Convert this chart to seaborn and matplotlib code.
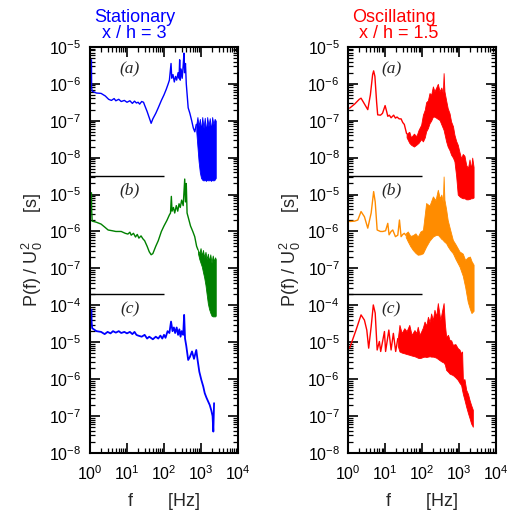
import numpy as np
import matplotlib
matplotlib.use("Agg")
import matplotlib.pyplot as plt
import seaborn as sns
from matplotlib.ticker import FixedLocator, FuncFormatter, LogLocator, NullFormatter

sns.set_style("ticks", {"xtick.direction": "in", "ytick.direction": "in",
                        "xtick.color": "black", "ytick.color": "black"})
plt.rcParams["font.family"] = ["Liberation Sans", "DejaVu Sans"]
plt.rcParams["mathtext.fontset"] = "custom"
plt.rcParams["mathtext.rm"] = "Liberation Sans"
plt.rcParams["mathtext.it"] = "Liberation Sans:italic"
plt.rcParams["mathtext.bf"] = "Liberation Sans:bold"
plt.rcParams["xtick.top"] = True
plt.rcParams["ytick.right"] = True
plt.rcParams["xtick.major.size"] = 7
plt.rcParams["ytick.major.size"] = 7
plt.rcParams["xtick.minor.size"] = 3.5
plt.rcParams["ytick.minor.size"] = 3.5
plt.rcParams["xtick.major.width"] = 1.2
plt.rcParams["ytick.major.width"] = 1.2
plt.rcParams["xtick.minor.width"] = 0.9
plt.rcParams["ytick.minor.width"] = 0.9

# ---------------------------------------------------------------------------
# Spectra: frequency [Hz] and log10 of P(f)/U0^2 [s]
# "line" = resolved curve, "band" = dense high-frequency scatter (lo / hi)
# ---------------------------------------------------------------------------

# Stationary, x/h = 3
st_a_f = [1.1, 1.11, 1.15, 1.5, 2.0, 2.6, 3.2, 3.8, 4.5, 5.0, 6.0, 7.0, 8.5, 10, 12, 14, 16, 18,
          20, 22, 25, 28, 30, 35, 40, 45, 50, 60, 70, 85, 100, 115, 130, 140, 155, 162, 175,
          190, 205, 220, 240, 255, 265, 275, 290, 310, 330, 347, 360, 380, 400, 430, 450, 500,
          560, 620, 680, 745]
st_a_logp = [-5.35, -6.1, -6.2, -6.25, -6.26, -6.33, -6.42, -6.45, -6.40, -6.46, -6.42, -6.48,
             -6.45, -6.50, -6.46, -6.53, -6.47, -6.52, -6.50, -6.55, -6.48, -6.50, -6.58, -6.75,
             -6.92, -7.07, -6.95, -6.8, -6.65, -6.45, -6.3, -6.15, -6.0, -5.9, -5.45, -5.85,
             -5.75, -5.95, -5.8, -5.9, -5.7, -5.85, -5.35, -5.9, -5.6, -5.85, -5.5, -5.17, -5.7,
             -5.45, -6.0, -6.4, -6.65, -6.8, -7.0, -7.2, -7.3, -7.1]
st_a_band_f = [745, 800, 860, 930, 1000, 1080, 1170, 1260, 1360, 1470, 1590, 1720, 1860, 2000,
               2160, 2330, 2500]
st_a_band_hi = [-7.1, -6.9, -7.15, -6.95, -7.25, -6.9, -7.2, -6.92, -7.3, -6.9, -7.15, -6.93,
                -7.25, -6.9, -7.1, -6.95, -7.0]
st_a_band_lo = [-7.3, -7.7, -8.1, -8.4, -8.55, -8.6, -8.62, -8.6, -8.63, -8.6, -8.62, -8.6,
                -8.63, -8.6, -8.62, -8.6, -8.55]

st_b_f = [1.1, 1.11, 1.15, 1.5, 2.0, 2.5, 3.1, 4, 5, 7, 9, 10.6, 12, 13, 15, 17, 19, 21, 24, 27,
          30, 35, 40, 45, 50, 60, 70, 85, 100, 120, 140, 150, 158, 165, 180, 195, 215, 235, 255,
          275, 300, 330, 363, 380, 400, 420, 447, 520, 600, 676, 760, 830]
st_b_logp = [-4.95, -5.4, -5.72, -5.75, -5.8, -5.88, -5.96, -5.98, -6.0, -6.0, -6.05, -6.07,
             -6.02, -6.1, -6.05, -6.15, -6.08, -6.18, -6.12, -6.2, -6.25, -6.4, -6.55, -6.63,
             -6.6, -6.4, -6.25, -6.0, -5.85, -5.7, -5.55, -5.5, -5.05, -5.45, -5.35, -5.5, -5.3,
             -5.45, -5.25, -5.35, -5.15, -5.3, -4.58, -5.2, -4.7, -5.5, -5.6, -5.85, -6.0, -6.14,
             -6.4, -6.5]
st_b_band_f = [830, 900, 970, 1050, 1130, 1220, 1320, 1420, 1530, 1650, 1780, 1920, 2070, 2230,
               2400, 2500]
st_b_band_hi = [-6.5, -6.6, -6.45, -6.65, -6.5, -6.7, -6.55, -6.75, -6.6, -6.8, -6.62, -6.85,
                -6.65, -6.8, -6.7, -6.75]
st_b_band_lo = [-6.6, -6.75, -6.85, -6.95, -7.1, -7.25, -7.45, -7.7, -7.95, -8.1, -8.2, -8.28,
                -8.3, -8.3, -8.3, -8.28]

st_c_f = [1.1, 1.11, 1.15, 1.5, 2.0, 2.5, 3.0, 3.6, 4.2, 5, 6, 7, 8.5, 10, 12, 14, 16, 18, 20,
          25, 30, 35, 40, 50, 60, 70, 80, 90, 100, 110, 125, 140, 155, 170, 185, 200, 220, 240,
          260, 280, 300, 330, 350, 370, 400, 450, 500, 571, 646, 745, 800, 900, 1020, 1150,
          1260, 1400, 1550, 1720, 1900, 2050, 2150, 2250]
st_c_logp = [-4.12, -4.45, -4.62, -4.7, -4.72, -4.78, -4.72, -4.76, -4.7, -4.74, -4.7, -4.75,
             -4.72, -4.76, -4.72, -4.78, -4.72, -4.8, -4.82, -4.85, -4.8, -4.9, -4.85, -4.92,
             -4.85, -4.9, -4.82, -4.9, -4.8, -4.88, -4.7, -4.75, -4.44, -4.7, -4.6, -4.75, -4.6,
             -4.8, -4.65, -4.85, -4.7, -4.8, -4.26, -4.9, -5.1, -5.48, -5.4, -5.25, -5.45,
             -5.21, -5.45, -5.8, -6.02, -6.2, -6.38, -6.5, -6.6, -6.7, -6.85, -7.0, -7.42, -6.65]

# Oscillating, x/h = 1.5
os_a_f = [1.1, 1.5, 2.0, 2.24, 2.6, 3.4, 4.0, 4.6, 4.9, 5.3, 5.9, 6.3, 7.5, 8.5, 10, 11, 11.8,
          13, 14.5, 17, 19, 21, 24, 27, 30, 33, 38]
os_a_logp = [-6.66, -6.55, -6.42, -6.39, -6.5, -6.7, -6.3, -5.75, -5.65, -5.8, -6.5, -6.84,
             -6.85, -6.8, -6.59, -6.75, -6.88, -6.85, -6.92, -6.85, -6.93, -6.9, -6.95, -6.95,
             -7.05, -7.1, -7.35]
os_a_band_f = [38, 45, 50, 60, 70, 80, 94, 105, 118, 128, 143, 158, 175, 195, 215, 240, 265, 295,
               330, 363, 380, 400, 445, 490, 550, 605, 680, 745, 830, 915, 1020, 1130, 1250,
               1390, 1550, 1730, 1900, 2100, 2250, 2450]
os_a_band_hi = [-7.35, -7.3, -7.45, -7.35, -7.42, -7.25, -7.11, -6.84, -6.7, -6.5, -6.45, -6.25,
                -6.3, -6.07, -6.2, -6.1, -6.0, -6.2, -6.1, -6.25, -5.71, -6.2, -6.45, -6.66,
                -6.8, -7.02, -7.15, -7.38, -7.55, -7.65, -7.85, -8.02, -7.9, -7.95, -8.2, -8.28,
                -8.05, -8.3, -8.0, -8.25]
os_a_band_lo = [-7.45, -7.6, -7.65, -7.7, -7.65, -7.6, -7.5, -7.56, -7.45, -7.29, -7.2, -7.07,
                -7.0, -6.89, -6.89, -6.92, -6.95, -6.98, -7.1, -7.2, -7.25, -7.35, -7.56, -7.7,
                -7.8, -7.92, -8.0, -8.1, -8.5, -9.0, -9.05, -9.08, -9.1, -9.1, -9.13, -9.13,
                -9.12, -9.1, -9.1, -9.08]

os_b_f = [1.1, 1.5, 1.83, 2.24, 2.76, 3.4, 4.2, 4.9, 5.4, 6.1, 7.5, 8.7, 10.3, 11.8, 12.8, 14.5,
          16.1, 19, 22, 24.4, 27, 30, 33, 36]
os_b_logp = [-5.73, -5.72, -5.69, -5.46, -5.6, -5.91, -5.5, -4.92, -5.2, -5.96, -6.0, -6.0,
             -5.98, -5.78, -6.09, -6.0, -5.96, -6.14, -6.1, -5.69, -6.14, -6.08, -6.05, -6.1]
os_b_band_f = [36, 41, 48, 56, 66, 76, 90, 105, 128, 158, 195, 230, 265, 300, 330, 363, 380, 400,
               445, 490, 570, 675, 800, 1020, 1250, 1450, 1700, 1950, 2150, 2450]
os_b_band_hi = [-6.05, -6.0, -6.12, -6.1, -6.05, -6.14, -6.0, -5.96, -5.23, -5.3, -5.05, -5.15,
                -4.87, -5.1, -5.0, -5.2, -4.51, -5.14, -5.4, -5.69, -5.95, -6.23, -6.35, -6.54,
                -6.6, -6.77, -6.7, -6.68, -6.8, -6.9]
os_b_band_lo = [-6.15, -6.27, -6.4, -6.5, -6.58, -6.63, -6.62, -6.59, -6.41, -6.25, -6.14, -6.1,
                -6.09, -6.15, -6.2, -6.23, -6.26, -6.28, -6.32, -6.4, -6.5, -6.59, -6.75, -6.95,
                -7.2, -7.5, -7.9, -8.1, -8.21, -8.15]

os_c_f = [1.1, 1.64, 2.24, 2.76, 3.2, 3.6, 4.2, 4.8, 5.4, 6.1, 7.0, 7.6, 9.6, 10.3, 12.6, 14.5,
          16.7, 19.3, 22]
os_c_logp = [-5.16, -4.67, -4.26, -4.40, -4.67, -5.16, -4.58, -3.99, -4.21, -5.21, -4.98, -5.25,
             -4.71, -5.25, -4.67, -5.21, -4.76, -5.25, -4.9]
os_c_band_f = [22, 24.4, 28, 33, 38, 45, 52, 62, 70, 76, 85, 94, 105, 116, 130, 143, 160, 175,
               195, 215, 240, 265, 290, 310, 345, 380, 410, 445, 500, 550, 610, 675, 790, 915,
               1020, 1130, 1200, 1260, 1390, 1550, 1730, 1900, 2100, 2340]
os_c_band_hi = [-4.9, -4.53, -4.75, -4.62, -4.7, -4.53, -4.8, -4.67, -4.75, -4.58, -4.8, -4.71,
                -4.6, -4.44, -4.55, -4.31, -4.45, -4.22, -4.4, -4.12, -4.3, -3.94, -4.2, -4.4,
                -4.15, -3.94, -4.5, -4.85, -4.8, -4.94, -4.95, -5.07, -5.05, -5.16, -5.2, -5.3,
                -5.25, -6.02, -6.0, -6.29, -6.4, -6.56, -6.7, -6.83]
os_c_band_lo = [-5.1, -5.25, -5.28, -5.3, -5.32, -5.34, -5.36, -5.38, -5.4, -5.42, -5.43, -5.42,
                -5.4, -5.39, -5.4, -5.39, -5.38, -5.39, -5.39, -5.4, -5.42, -5.45, -5.48, -5.5,
                -5.53, -5.55, -5.6, -5.75, -5.8, -5.85, -5.87, -5.89, -5.95, -6.02, -6.1, -6.16,
                -6.3, -6.4, -6.56, -6.75, -6.92, -7.05, -7.2, -7.29]

x_ticks = [1, 10, 100, 1000, 10000]
panel_names = ["(a)", "(b)", "(c)"]

# Each column stacks three panels on a single log axis; every panel is shifted
# by a whole number of decades and gets its own decade labels.
SHIFT = {"a": 16, "b": 12, "c": 8}
SEPARATORS = [10 ** 7.49, 10 ** 4.30]


def decade_label(v, pos):
    g = int(round(np.log10(v)))
    if g >= 8:
        e = g - SHIFT["a"]
    elif g >= 5:
        e = g - SHIFT["b"]
    else:
        e = g - SHIFT["c"]
    return r"$10^{%d}$" % e


def draw_column(ax, panels, title, tcolor, title_x, lab_x):
    for key, (f, lp, bf, blo, bhi, color, lw) in panels.items():
        s = SHIFT[key]
        p = 10 ** (np.asarray(lp) + s)
        sns.lineplot(x=f, y=p, ax=ax, color=color, lw=lw,
                     estimator=None, sort=False, legend=False)
        if bf is not None:
            ax.fill_between(bf, 10 ** (np.asarray(blo) + s), 10 ** (np.asarray(bhi) + s),
                            color=color, lw=0.6, edgecolor=color)

    ax.set_xscale("log")
    ax.set_yscale("log")
    ax.set_xlim(1, 1e4)
    ax.set_ylim(1, 1e11)

    for y in SEPARATORS:
        ax.hlines(y, 1, 100, color="black", lw=1.0)

    ax.xaxis.set_major_locator(FixedLocator(x_ticks))
    ax.xaxis.set_major_formatter(FuncFormatter(lambda v, p: r"$10^{%d}$" % round(np.log10(v))))
    ax.xaxis.set_minor_locator(LogLocator(base=10, subs=np.arange(2, 10), numticks=50))
    ax.xaxis.set_minor_formatter(NullFormatter())
    ax.yaxis.set_major_locator(FixedLocator([10.0 ** k for k in range(12)]))
    ax.yaxis.set_major_formatter(FuncFormatter(decade_label))
    ax.yaxis.set_minor_locator(LogLocator(base=10, subs=np.arange(2, 10), numticks=50))
    ax.yaxis.set_minor_formatter(NullFormatter())

    ax.tick_params(which="both", direction="in", top=True, right=True, bottom=True, left=True,
                   color="black", labelsize=11.5, zorder=5)
    ax.tick_params(axis="x", which="major", pad=8)
    ax.tick_params(axis="y", which="major", pad=6)
    for sp in ax.spines.values():
        sp.set_linewidth(1.5)
        sp.set_color("black")
        sp.set_zorder(6)

    ax.set_xlabel("f       [Hz]", fontsize=13, labelpad=7)
    ax.set_ylabel(r"P(f) / U$_0^2$      [s]", fontsize=13, labelpad=3)

    ax.text(title_x, 1.022, title, transform=ax.transAxes, ha="center", va="baseline",
            multialignment="center", linespacing=0.95, color=tcolor, fontsize=13)

    for name, yv in zip(panel_names, [10 ** 10.38, 10 ** 7.11, 10 ** 3.89]):
        ax.text(lab_x, yv, name, transform=ax.get_yaxis_transform(), ha="center", va="center",
                fontsize=12.5, family=["Liberation Serif"], style="italic")


fig = plt.figure(figsize=(5.29, 5.18), dpi=100)
ax_l = fig.add_axes([0.170, 0.1255, 0.280, 0.784])
ax_r = fig.add_axes([0.658, 0.1255, 0.280, 0.784])

draw_column(ax_l, {
    "a": (st_a_f, st_a_logp, st_a_band_f, st_a_band_lo, st_a_band_hi, "#0000ff", 1.0),
    "b": (st_b_f, st_b_logp, st_b_band_f, st_b_band_lo, st_b_band_hi, "#008000", 1.0),
    "c": (st_c_f, st_c_logp, None, None, None, "#0000ff", 1.3),
}, "Stationary\nx / h = 3", "#0000ff", 0.30, 0.27)

draw_column(ax_r, {
    "a": (os_a_f, os_a_logp, os_a_band_f, os_a_band_lo, os_a_band_hi, "#ff0000", 1.0),
    "b": (os_b_f, os_b_logp, os_b_band_f, os_b_band_lo, os_b_band_hi, "#ff8c00", 1.0),
    "c": (os_c_f, os_c_logp, os_c_band_f, os_c_band_lo, os_c_band_hi, "#ff0000", 1.0),
}, "Oscillating\n  x / h = 1.5", "#ff0000", 0.31, 0.29)

fig.savefig("out.png", dpi=100)
